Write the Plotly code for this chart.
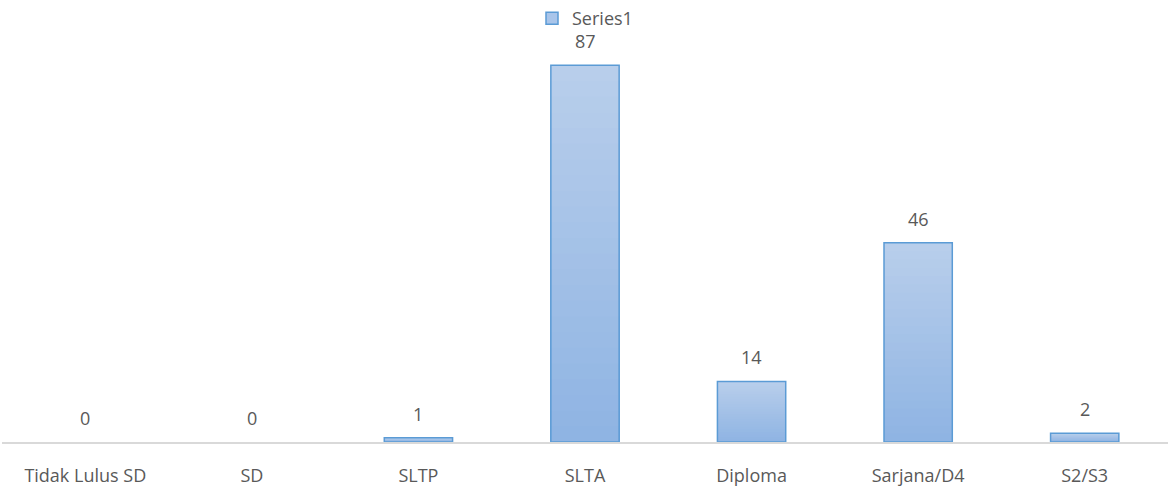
import plotly.graph_objects as go

categories = ["Tidak Lulus SD", "SD", "SLTP", "SLTA", "Diploma", "Sarjana/D4", "S2/S3"]
values = [0, 0, 1, 87, 14, 46, 2]
series_name = "Series1"

FONT = "Open Sans"
FS = 18
GRAY = "#595959"
top_rgb = (184, 206, 235)
bot_rgb = (143, 180, 227)
N = 24
bw = 0.41

fig = go.Figure()
# gradient via overlaid bars (lightest/tallest first)
for k in range(N):
    f = 1 - k / N
    t = k / (N - 1)
    c = tuple(int(round(top_rgb[i] + (bot_rgb[i] - top_rgb[i]) * t)) for i in range(3))
    fig.add_trace(go.Bar(
        x=categories, y=[v * f for v in values], width=bw,
        marker=dict(color="rgb(%d,%d,%d)" % c, line=dict(width=0)),
        showlegend=False, hoverinfo="skip"))
# outline
fig.add_trace(go.Bar(
    x=categories, y=values, width=bw, name=series_name,
    marker=dict(color="rgba(0,0,0,0)",
                line=dict(color="#5b9bd5", width=[1.5 if v > 0 else 0 for v in values])),
    showlegend=False))
# legend entry
fig.add_trace(go.Bar(
    x=[None], y=[None], name=series_name,
    marker=dict(color="#a9c5ea", line=dict(color="#5b9bd5", width=1.5))))

for c, v in zip(categories, values):
    fig.add_annotation(x=c, y=v, text=str(v), showarrow=False, yanchor="middle",
                       yshift=24, font=dict(family=FONT, size=FS, color=GRAY))

fig.update_layout(
    width=1168, height=495, barmode="overlay",
    margin=dict(l=2, r=0, t=5, b=53),
    paper_bgcolor="white", plot_bgcolor="white",
    font=dict(family=FONT, size=FS, color=GRAY),
    legend=dict(orientation="h", x=0.5, xanchor="center", y=0.979, yanchor="middle",
                font=dict(family=FONT, size=FS, color=GRAY), bgcolor="rgba(0,0,0,0)",
                itemwidth=30),
    xaxis=dict(showline=True, linecolor="#d9d9d9", linewidth=1.5, ticks="",
               ticklabelstandoff=17, showgrid=False,
               tickfont=dict(family=FONT, size=FS, color=GRAY)),
    yaxis=dict(range=[0, 100], visible=False, showgrid=False),
)
fig.write_html("out.html", post_script="document.body.style.margin='0';",
               config={"displayModeBar": False})
